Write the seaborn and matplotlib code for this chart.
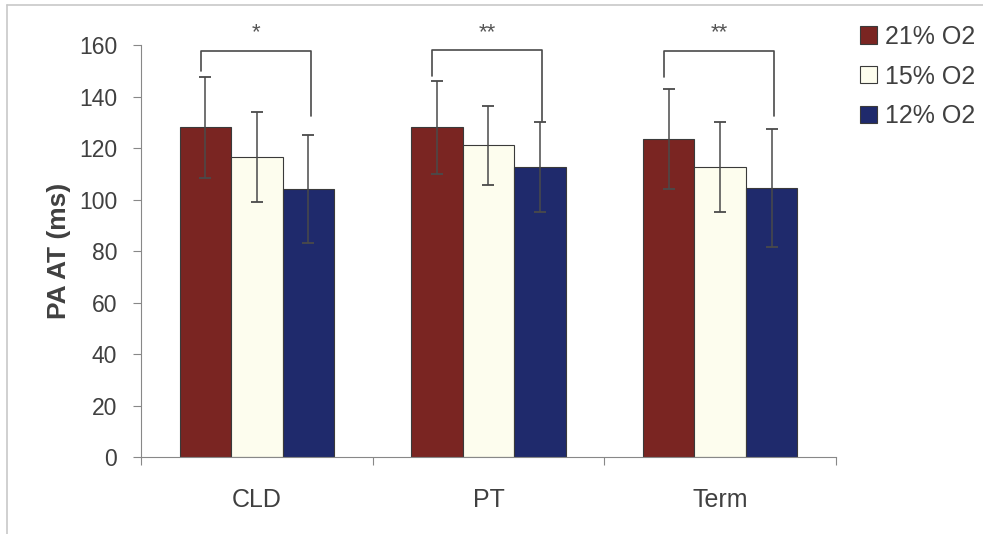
import numpy as np
import pandas as pd
import matplotlib
matplotlib.use('Agg')
import matplotlib.pyplot as plt
from matplotlib.lines import Line2D
import seaborn as sns

sns.set_theme(style='white')
plt.rcParams['font.family'] = ['Liberation Sans', 'DejaVu Sans']

# values
groups = ['CLD', 'PT', 'Term']
oxygen = ['21% O2', '15% O2', '12% O2']
mean_21 = [128, 128, 123.5]
mean_15 = [116.5, 121, 112.5]
mean_12 = [104, 112.5, 104.5]
sd_21 = [19.5, 18, 19.5]
sd_15 = [17.5, 15.5, 17.5]
sd_12 = [21, 17.5, 23]

# significance brackets (21% vs 12%)
stars = ['*', '**', '**']
bracket_top = [157.5, 158, 157.5]
bracket_left = [150, 148, 147.5]
bracket_right = [132.5, 130.5, 132.5]

colors = ['#7a2522', '#fdfdee', '#1f2a6c']
text_col = '#404040'

df = pd.DataFrame({
    'group': groups * 3,
    'oxygen': np.repeat(oxygen, 3),
    'mean': mean_21 + mean_15 + mean_12,
})
sds = [sd_21, sd_15, sd_12]

fig = plt.figure(figsize=(9.83, 5.34), dpi=100)
ax = fig.add_axes([0.1434, 0.144, 0.707, 0.7717])

sns.barplot(data=df, x='group', y='mean', hue='oxygen', order=groups, hue_order=oxygen,
            palette=colors, width=0.667, errorbar=None, edgecolor='#3a3a3a',
            linewidth=0.8, saturation=1, ax=ax)

centers = []
for cont, sd in zip(ax.containers, sds):
    xs = [b.get_x() + b.get_width() / 2 for b in cont]
    ys = [b.get_height() for b in cont]
    centers.append(xs)
    ax.errorbar(xs, ys, yerr=sd, fmt='none', ecolor='#4a4a4a', elinewidth=1.1,
                capsize=4.5, capthick=1.3, zorder=5)

for i in range(len(groups)):
    x0 = centers[0][i] - 0.02
    x1 = centers[2][i] + 0.01
    ax.plot([x0, x0, x1, x1], [bracket_left[i], bracket_top[i], bracket_top[i], bracket_right[i]],
            color='#4a4a4a', lw=1.2, clip_on=False, zorder=6)
    ax.text((x0 + x1) / 2, 162.5, stars[i], ha='center', va='baseline',
            fontsize=16, color='#555555', clip_on=False)

ax.set_ylim(0, 160)
ax.set_xlim(-0.5, 2.5)
ax.set_yticks(range(0, 161, 20))
ax.set_xticks(range(len(groups)))
ax.set_xticklabels(groups)
ax.set_xticks([-0.5, 0.5, 1.5, 2.5], minor=True)
ax.tick_params(axis='x', which='major', length=0, pad=22, labelsize=18, labelcolor=text_col)
ax.tick_params(axis='x', which='minor', length=6, width=0.8, color='#888888', direction='out', bottom=True)
ax.tick_params(axis='y', length=6, width=0.8, color='#888888', direction='out', left=True,
               labelsize=16.5, labelcolor=text_col, pad=11)
ax.set_xlabel('')
ax.set_ylabel('PA AT (ms)', fontsize=19, fontweight='bold', color=text_col, labelpad=6)

sns.despine(ax=ax)
for s in ['left', 'bottom']:
    ax.spines[s].set_color('#888888')
    ax.spines[s].set_linewidth(0.8)

ax.legend(loc='upper left', bbox_to_anchor=(1.0346, 1.049), frameon=False, fontsize=18,
          borderpad=0, borderaxespad=0, handlelength=0.68, handleheight=0.68,
          handletextpad=0.32, labelspacing=0.63, labelcolor=text_col)
for h in ax.get_legend().legend_handles:
    h.set_edgecolor('#3a3a3a')
    h.set_linewidth(0.8)

# faint frame around the chart
fig.add_artist(Line2D([0.007, 1.0], [0.991, 0.991], color='#c8c8c8', lw=1.2))
fig.add_artist(Line2D([0.007, 0.007], [0.0, 0.991], color='#c8c8c8', lw=1.2))

fig.savefig('out.png', dpi=100)
